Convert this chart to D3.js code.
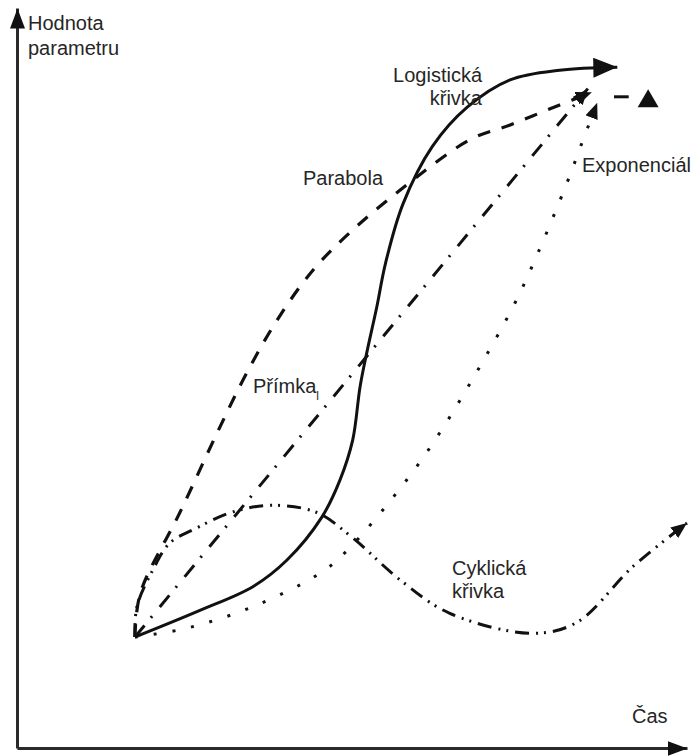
<!DOCTYPE html>
<html>
<head>
<meta charset="utf-8">
<script src="https://cdn.jsdelivr.net/npm/d3@7"></script>
<style>
  body { margin: 0; background: #fff; }
  text { font-family: "Liberation Sans", Arial, sans-serif; font-size: 20px; fill: #262626; }
</style>
</head>
<body>
<script>
// values, in chart units (time 0..100, parameter 0..100)
var logisticka = [[17.6,15.0],[27.3,18.6],[35.2,21.8],[40.3,25.4],[45.5,31.2],[48.2,36.2],[50.1,41.6],
  [51.2,48.8],[52.2,53.4],[53.7,59.6],[55.0,65.5],[57.6,73.5],[62.0,81.3],[67.2,86.6],[73.6,90.3],[81.0,91.6],[89.6,92.0]]
var parabola = [[17.6,15.0],[18.4,20.9],[24.3,31.8],[30.3,43.4],[34.3,50.7],[38.8,57.8],[44.2,64.6],
  [50.1,70.0],[57.2,75.4],[67.6,82.2],[73.6,84.2],[81.0,86.9],[85.8,88.6]]
var primka = [[17.6,15.0],[85.2,89.1]]
var exponencial = [[17.6,15.0],[25.4,16.2],[35.2,19.1],[45.2,23.6],[49.4,26.8],[58.4,36.5],[63.1,42.6],
  [68.8,51.1],[74.3,60.1],[77.8,67.0],[82.1,76.4],[84.5,82.2],[86.6,87.2]]
var cyklicka = [[17.6,15.0],[17.9,19.1],[20.3,24.1],[22.8,27.7],[26.3,29.5],[32.2,31.9],[38.2,32.8],
  [44.8,31.8],[50.1,28.4],[57.2,22.7],[64.6,18.2],[77.0,15.5],[83.6,17.0],[91.9,24.5],[100,30.4]]
var stray = [[89.1,88.0],[91.3,88.0]]
var strayTri = [94.2,87.4]

var axisLabels = ["Hodnota", "parametru", "Čas"]

var W = 696, H = 756

var svg = d3.select("body").append("svg")
  .attr("width", W)
  .attr("height", H)

var x = d3.scaleLinear().domain([0, 100]).range([17, 687])
var y = d3.scaleLinear().domain([0, 100]).range([748, 8])

var defs = svg.append("defs")
function marker(id, len, wid) {
  defs.append("marker")
      .attr("id", id)
      .attr("viewBox", `0 0 ${len} ${wid}`)
      .attr("refX", len)
      .attr("refY", wid / 2)
      .attr("markerWidth", len)
      .attr("markerHeight", wid)
      .attr("markerUnits", "userSpaceOnUse")
      .attr("orient", "auto")
    .append("path")
      .attr("d", `M0,0L${len},${wid / 2}L0,${wid}Z`)
      .attr("fill", "#111")
}
marker("axisArrow", 20, 15)
marker("bigArrow", 24, 20)
marker("smallArrow", 16, 13)

// axes: no ticks, just the two arrows
var xAxis = svg.append("g")
    .attr("transform", `translate(0,${y(0)})`)
    .call(d3.axisBottom(x).tickValues([]).tickSizeOuter(0))
var yAxis = svg.append("g")
    .attr("transform", `translate(${x(0)},0)`)
    .call(d3.axisLeft(y).tickValues([]).tickSizeOuter(0))
svg.selectAll(".domain")
    .attr("stroke", "#2a2a2a")
    .attr("stroke-width", 3)
    .attr("marker-end", "url(#axisArrow)")

var line = d3.line()
    .x(d => x(d[0]))
    .y(d => y(d[1]))
    .curve(d3.curveCatmullRom.alpha(0.5))

var curves = [
  {data: cyklicka, dash: "14,7,2,6,2,7", w: 3, arrow: "smallArrow"},
  {data: exponencial, dash: "3,16", w: 3, arrow: "smallArrow"},
  {data: primka, dash: "15,10,2,12", w: 3, arrow: "smallArrow"},
  {data: parabola, dash: "13,12", w: 3.2, arrow: "smallArrow"},
  {data: logisticka, dash: null, w: 3, arrow: "bigArrow"}
]

svg.append("g")
    .attr("fill", "none")
    .attr("stroke", "#111")
  .selectAll("path")
  .data(curves)
  .join("path")
    .attr("d", d => line(d.data))
    .attr("stroke-width", d => d.w)
    .attr("stroke-dasharray", d => d.dash)
    .attr("marker-end", d => `url(#${d.arrow})`)

svg.append("path")
    .attr("d", d3.line().x(d => x(d[0])).y(d => y(d[1]))(stray))
    .attr("stroke", "#111")
    .attr("stroke-width", 3)

svg.append("path")
    .attr("transform", `translate(${x(strayTri[0])},${y(strayTri[1])})`)
    .attr("d", d3.symbol(d3.symbolTriangle, 190)())
    .attr("fill", "#111")

// labels
svg.append("text").attr("x", 28).attr("y", 30).text(axisLabels[0])
svg.append("text").attr("x", 28).attr("y", 55).text(axisLabels[1])
svg.append("text").attr("x", 632).attr("y", 723).text(axisLabels[2])

svg.append("text").attr("x", 482).attr("y", 82).attr("text-anchor", "end").text("Logistická")
svg.append("text").attr("x", 482).attr("y", 105).attr("text-anchor", "end").text("křivka")
svg.append("text").attr("x", 303).attr("y", 185).text("Parabola")
svg.append("text").attr("x", 582).attr("y", 172).text("Exponenciál")
var pr = svg.append("text").attr("x", 253).attr("y", 393).text("Přímka")
pr.append("tspan").attr("dy", 7).attr("font-size", "12px").text("l")
svg.append("text").attr("x", 452).attr("y", 575).text("Cyklická")
svg.append("text").attr("x", 452).attr("y", 598).text("křivka")
</script>
</body>
</html>
